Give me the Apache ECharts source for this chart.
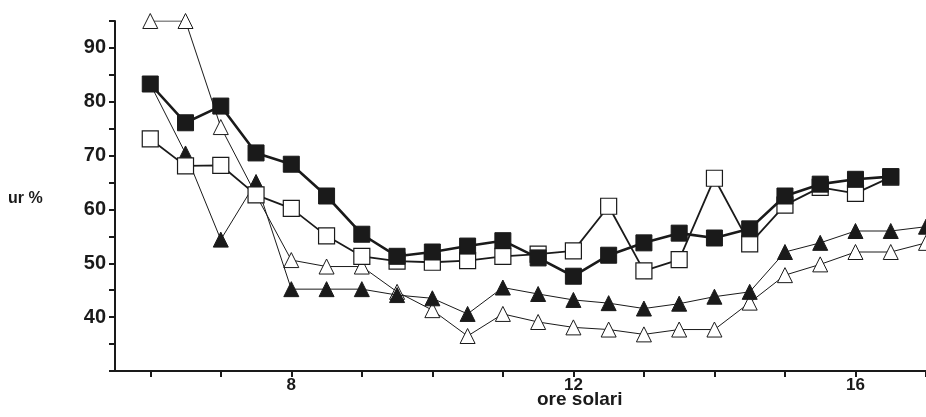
<!DOCTYPE html>
<html>
<head>
<meta charset="utf-8">
<script src="https://cdn.jsdelivr.net/npm/echarts@6/dist/echarts.min.js"></script>
<style>
  html, body { margin: 0; padding: 0; background: #fff; }
  #main { width: 926px; height: 417px; }
</style>
</head>
<body>
<div id="main"></div>
<script>
// ore solari, every half hour
const hours = [6, 6.5, 7, 7.5, 8, 8.5, 9, 9.5, 10, 10.5, 11, 11.5, 12, 12.5, 13, 13.5, 14, 14.5, 15, 15.5, 16, 16.5, 17];
const xTicks = [6, 7, 8, 9, 10, 11, 12, 13, 14, 15, 16, 17];
const xLabels = [8, 12, 16];
const yLabels = [40, 50, 60, 70, 80, 90];

// ur % values
const filledSquare = [83.3, 76.1, 79.2, 70.5, 68.4, 62.5, 55.4, 51.3, 52.1, 53.2, 54.2, 51, 47.6, 51.5, 53.8, 55.6, 54.7, 56.4, 62.5, 64.7, 65.6, 66.1];
const openSquare = [73.1, 68.1, 68.2, 62.7, 60.2, 55.1, 51.3, 50.4, 50.2, 50.5, 51.3, 51.7, 52.3, 60.6, 48.6, 50.7, 65.8, 53.6, 60.8, 64.1, 63, 66];
const filledTriangle = [83.3, 70.4, 54.4, 65.1, 45.2, 45.2, 45.2, 44.1, 43.5, 40.6, 45.5, 44.3, 43.2, 42.6, 41.6, 42.5, 43.8, 44.7, 52.1, 53.8, 56, 56, 56.8];
const openTriangle = [95, 95, 75.3, 62.7, 50.6, 49.4, 49.4, 44.7, 41.3, 36.5, 40.6, 39.1, 38.1, 37.7, 36.8, 37.7, 37.7, 42.7, 47.8, 49.8, 52.1, 52.1, 53.8];

const pairs = vals => vals.map((v, i) => [hours[i], v]);

const font = 'Liberation Sans, Arial, sans-serif';
const ink = '#1a1a1a';

const chart = echarts.init(document.getElementById('main'));
chart.setOption({
  animation: false,
  backgroundColor: '#fff',
  grid: {left: 115, right: -5, top: 21, bottom: 46, containLabel: false},
  xAxis: {
    type: 'value',
    min: 5.5,
    max: 17,
    splitLine: {show: false},
    axisLine: {lineStyle: {color: ink, width: 2}},
    axisTick: {show: true, length: 6, inside: false, customValues: xTicks, lineStyle: {color: ink, width: 2}},
    axisLabel: {customValues: xLabels, margin: 6, color: ink, fontFamily: font, fontWeight: 'bold', fontSize: 17}
  },
  yAxis: {
    type: 'value',
    min: 30,
    max: 95,
    interval: 5,
    splitLine: {show: false},
    axisLine: {show: true, lineStyle: {color: ink, width: 2}},
    axisTick: {show: true, length: 6, lineStyle: {color: ink, width: 2}},
    axisLabel: {
      margin: 9, color: ink, fontFamily: font, fontWeight: 'bold', fontSize: 20,
      formatter: v => yLabels.includes(v) ? String(v) : ''
    }
  },
  graphic: [
    {type: 'text', left: 8, top: 191, style: {text: 'ur %', fill: ink, font: 'bold 16px ' + font}},
    {type: 'text', left: 537, top: 390, style: {text: 'ore solari', fill: ink, font: 'bold 19px ' + font}}
  ],
  series: [
    {
      name: 'open triangle', type: 'line', data: pairs(openTriangle), z: 2,
      symbol: 'triangle', symbolSize: 15,
      lineStyle: {color: ink, width: 1},
      itemStyle: {color: '#fff', borderColor: ink, borderWidth: 1}
    },
    {
      name: 'filled triangle', type: 'line', data: pairs(filledTriangle), z: 3,
      symbol: 'triangle', symbolSize: 15,
      lineStyle: {color: ink, width: 1},
      itemStyle: {color: ink, borderColor: ink, borderWidth: 1}
    },
    {
      name: 'open square', type: 'line', data: pairs(openSquare), z: 4,
      symbol: 'rect', symbolSize: 16,
      lineStyle: {color: ink, width: 1.8},
      itemStyle: {color: '#fff', borderColor: ink, borderWidth: 1.2}
    },
    {
      name: 'filled square', type: 'line', data: pairs(filledSquare), z: 5,
      symbol: 'rect', symbolSize: 16,
      lineStyle: {color: ink, width: 2.6},
      itemStyle: {color: ink, borderColor: ink, borderWidth: 1}
    }
  ]
});
</script>
</body>
</html>
